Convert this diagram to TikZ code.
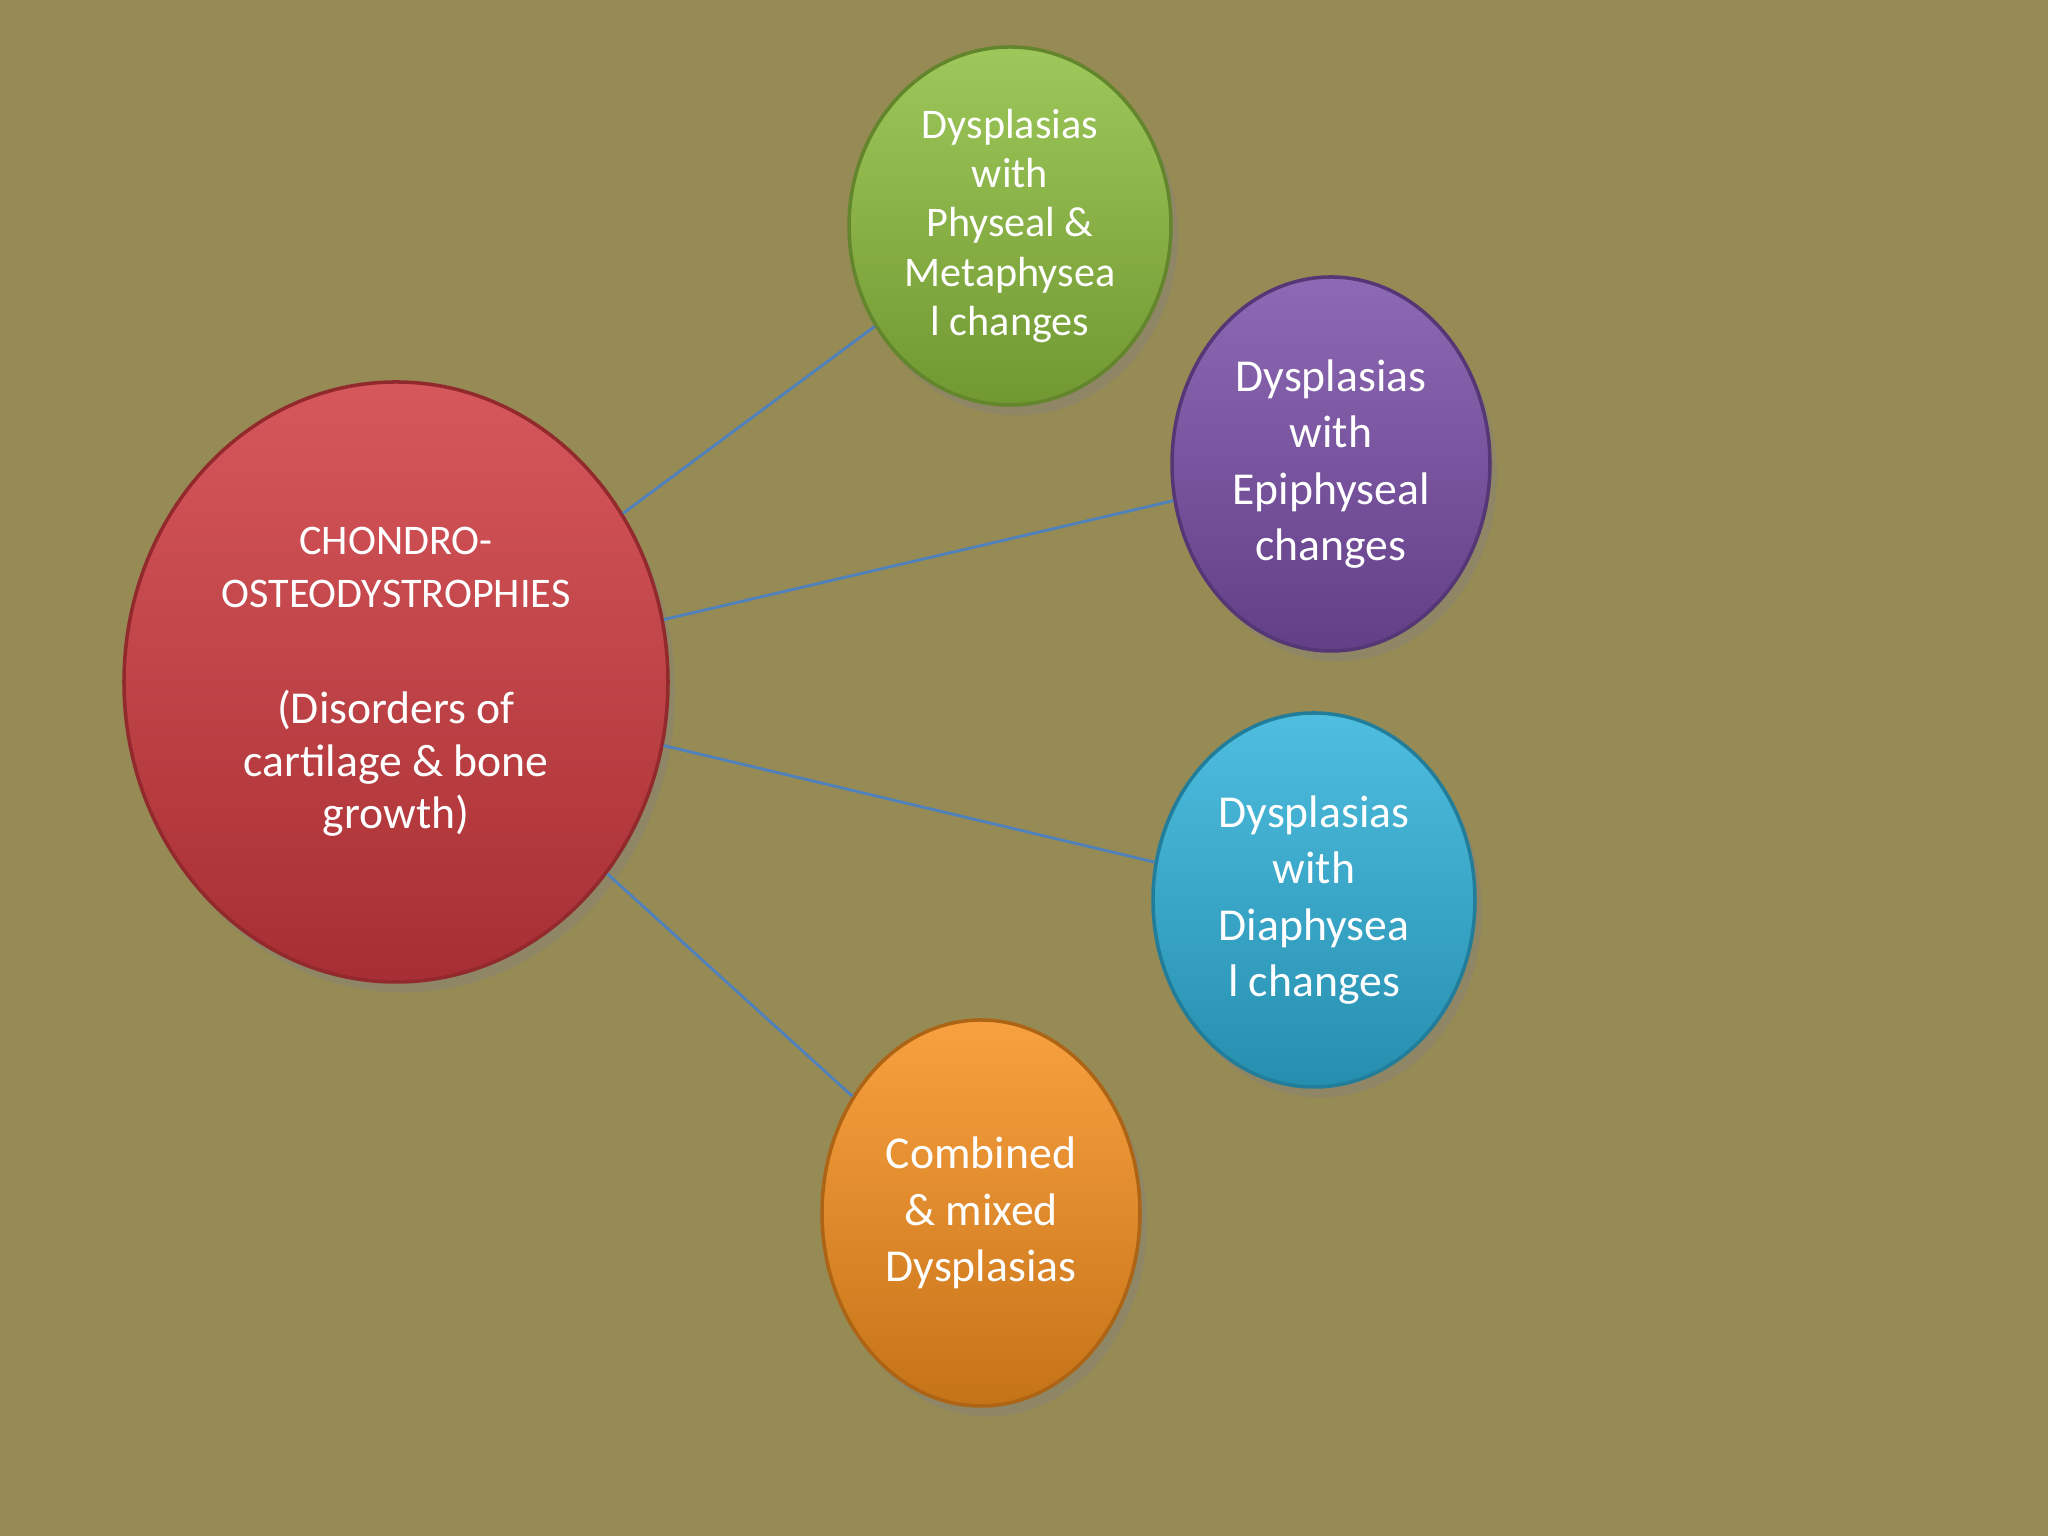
\documentclass[tikz,border=0pt]{standalone}
\usepackage{fontspec}
\setmainfont{Carlito}
\usetikzlibrary{shapes.geometric,shadows,positioning}
\definecolor{bgolive}{HTML}{968A55}
\definecolor{linkblue}{HTML}{4F81BD}
\definecolor{redball}{HTML}{D03A3F}
\definecolor{greenball}{HTML}{8DBE3E}
\definecolor{purpleball}{HTML}{7A4FA8}
\definecolor{blueball}{HTML}{2FB2DA}
\definecolor{orangeball}{HTML}{F7901E}

\begin{document}
\begin{tikzpicture}[
    every node/.style={font=\fontsize{13pt}{16pt}\selectfont, text=white},
    % balls drawn as shaded ellipses
    ball/.style={
        ellipse,
        align=center,
        inner sep=0pt,
        draw=#1!70!black,
        line width=1pt,
        top color=#1!85!white,
        bottom color=#1!80!black,
        drop shadow={opacity=0.35, shadow xshift=2pt, shadow yshift=-3pt}
    },
    link/.style={linkblue, line width=0.8pt}
]

% Background
\fill[bgolive] (0,0) rectangle (20.48,15.36);
\useasboundingbox (0,0) rectangle (20.48,15.36);

% Main ball
\node[ball=redball, minimum width=5.44cm, minimum height=6.0cm,
      font=\fontsize{12pt}{15pt}\selectfont] (main) at (3.96,8.54) {%
    CHONDRO-\\OSTEODYSTROPHIES\\[18pt]
    \fontsize{13pt}{16pt}\selectfont (Disorders of\\
    \fontsize{13pt}{16pt}\selectfont cartilage \& bone\\
    \fontsize{13pt}{16pt}\selectfont growth)};

% Satellite balls
\node[ball=greenball, minimum width=3.22cm, minimum height=3.58cm,
      font=\fontsize{12pt}{14pt}\selectfont] (physeal) at (10.10,13.10)
    {Dysplasias\\with\\Physeal \&\\Metaphysea\\l changes};
\node[ball=purpleball, minimum width=3.18cm, minimum height=3.74cm] (epiphyseal) at (13.31,10.72)
    {Dysplasias\\with\\Epiphyseal\\changes};
\node[ball=blueball, minimum width=3.22cm, minimum height=3.74cm] (diaphyseal) at (13.14,6.36)
    {Dysplasias\\with\\Diaphysea\\l changes};
\node[ball=orangeball, minimum width=3.18cm, minimum height=3.86cm] (mixed) at (9.81,3.23)
    {Combined\\\& mixed\\Dysplasias};

% Connectors
\draw[link] (main) -- (physeal);
\draw[link] (main) -- (epiphyseal);
\draw[link] (main) -- (diaphyseal);
\draw[link] (main) -- (mixed);

\end{tikzpicture}
\end{document}
